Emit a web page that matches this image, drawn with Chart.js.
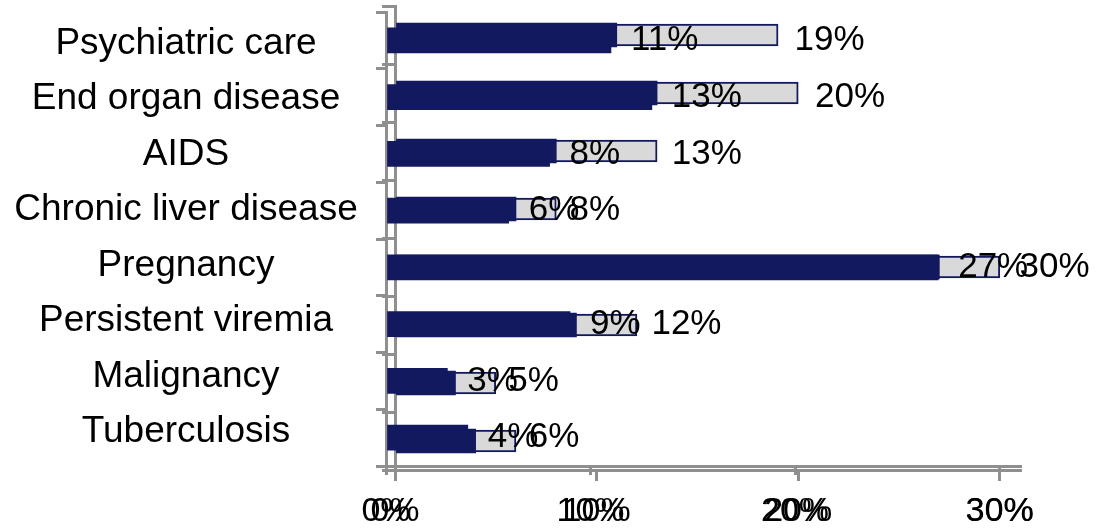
<!DOCTYPE html>
<html>
<head>
<meta charset="utf-8">
<script src="https://cdn.jsdelivr.net/npm/chart.js@4.4.1/dist/chart.umd.min.js"></script>
<style>
  html, body { margin: 0; padding: 0; background: #fff; width: 1112px; height: 528px; overflow: hidden; }
  .layer { position: absolute; left: 0; top: 0; width: 1112px; height: 528px; }
</style>
</head>
<body>
<canvas id="labels" class="layer" width="1112" height="528"></canvas>
<canvas id="back" class="layer" width="1112" height="528"></canvas>
<canvas id="front" class="layer" width="1112" height="528"></canvas>
<script>
// Categories, top to bottom
const categories = [
  'Psychiatric care',
  'End organ disease',
  'AIDS',
  'Chronic liver disease',
  'Pregnancy',
  'Persistent viremia',
  'Malignancy',
  'Tuberculosis'
];
// Share (%) of the inner (dark) and outer (light) bars
const innerShare = [11, 13, 8, 6, 27, 9, 3, 4];
const outerShare = [19, 20, 13, 8, 30, 12, 5, 6];
// Percent axis
const xTicks = [0, 10, 20, 30];
const xMax = 31;

const NAVY = '#12195e';
const LIGHT = '#d9d9d9';
const AXIS = '#8f8f8f';
const FONT = "'Liberation Sans', Arial, sans-serif";

const pct = v => v + '%';

function percentAxis(height, tickLength, padding) {
  return {
    min: 0,
    max: xMax,
    afterBuildTicks: s => { s.ticks = xTicks.map(v => ({ value: v })); },
    afterFit: s => { s.height = height; },
    grid: { drawOnChartArea: false, drawTicks: true, tickLength: tickLength, color: AXIS, lineWidth: 3 },
    border: { display: true, color: AXIS, width: 3 },
    ticks: { color: '#000', font: { size: 34, family: FONT }, padding: padding, maxRotation: 0, callback: pct }
  };
}

function categoryAxis(width, tickLength) {
  return {
    afterFit: s => { s.width = width; },
    grid: { drawOnChartArea: false, drawTicks: true, tickLength: tickLength, color: AXIS, lineWidth: 3 },
    border: { display: true, color: AXIS, width: 3 },
    ticks: { display: false }
  };
}

const common = {
  indexAxis: 'y',
  responsive: false,
  animation: false,
  devicePixelRatio: 1,
  plugins: { legend: { display: false }, tooltip: { enabled: false } }
};

// Category names, centred in the left margin
const labelFont = 37;
const probe = document.createElement('canvas').getContext('2d');
probe.font = labelFont + 'px ' + FONT;
const widest = Math.max(...categories.map(c => probe.measureText(c).width));
const labelCentre = 186;

new Chart(document.getElementById('labels'), {
  type: 'bar',
  data: { labels: categories, datasets: [] },
  options: Object.assign({}, common, {
    layout: { padding: { top: 16, right: 92, left: 0, bottom: 68 } },
    scales: {
      x: { type: 'linear', display: false, min: 0, max: xMax },
      y: {
        type: 'category',
        offset: true,
        afterFit: s => { s.width = labelCentre + widest / 2; },
        grid: { display: false, drawTicks: false, offset: true },
        border: { display: false },
        ticks: {
          color: '#000',
          font: { size: labelFont, family: FONT, lineHeight: 0.5 },
          crossAlign: 'center',
          padding: 0
        }
      }
    }
  })
});

// Back layer: light outer bars with the dark inner bars over them
new Chart(document.getElementById('back'), {
  type: 'bar',
  data: {
    labels: categories,
    datasets: [
      { data: innerShare, backgroundColor: NAVY, barThickness: 24, grouped: false, order: 0 },
      { data: outerShare, backgroundColor: LIGHT, borderColor: NAVY, borderWidth: 2, barThickness: 22, grouped: false, order: 1 }
    ]
  },
  options: Object.assign({}, common, {
    layout: { padding: { top: 6, right: 92, left: 0, bottom: 0 } },
    scales: {
      x: percentAxis(58, 11, 10),
      y: categoryAxis(395, 13)
    }
  })
});

// Value labels: inner share after the dark bar, outer share after the light bar
const valueLabels = {
  id: 'valueLabels',
  afterDatasetsDraw(chart) {
    const { ctx, scales: { x, y } } = chart;
    ctx.save();
    ctx.font = '35px ' + FONT;
    ctx.fillStyle = '#000';
    ctx.textAlign = 'left';
    ctx.textBaseline = 'middle';
    categories.forEach((c, i) => {
      const yy = y.getPixelForValue(i);
      ctx.fillText(pct(innerShare[i]), x.getPixelForValue(innerShare[i]) + 20, yy);
      ctx.fillText(pct(outerShare[i]), x.getPixelForValue(outerShare[i]) + 20, yy);
    });
    ctx.restore();
  }
};

// Front layer: dark inner bars and the value labels
new Chart(document.getElementById('front'), {
  type: 'bar',
  data: {
    labels: categories,
    datasets: [
      { data: innerShare, backgroundColor: NAVY, barThickness: 25, grouped: false }
    ]
  },
  options: Object.assign({}, common, {
    layout: { padding: { top: 12, right: 92, left: 0, bottom: 0 } },
    scales: {
      x: percentAxis(62, 9, 16),
      y: categoryAxis(386, 10)
    }
  }),
  plugins: [valueLabels]
});
</script>
</body>
</html>
